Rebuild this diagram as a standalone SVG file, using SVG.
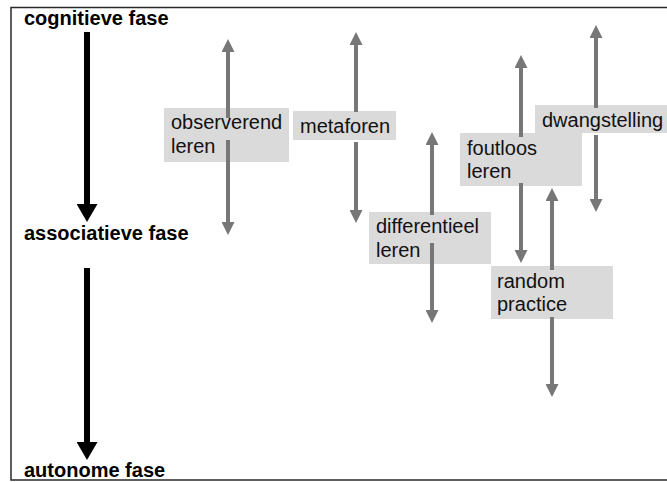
<svg xmlns="http://www.w3.org/2000/svg" width="667" height="482" viewBox="0 0 667 482">
<style>
.frame{fill:none;stroke:#2a2a2a;stroke-width:1.5}
.box{fill:#dadada}
.lbl{font-family:"Liberation Sans",Arial,sans-serif;font-size:20px;fill:#111}
.phase{font-family:"Liberation Sans",Arial,sans-serif;font-size:20px;font-weight:bold;fill:#000}
.g{stroke:#777;stroke-width:4;fill:none;marker-end:url(#gh)}
.k{stroke:#000;stroke-width:6;fill:none;marker-end:url(#kh)}
</style>
<defs>
<marker id="gh" viewBox="0 0 13 13" markerUnits="userSpaceOnUse" markerWidth="13" markerHeight="13" refX="6.5" refY="6.5" orient="auto"><path d="M0,0 L13,6.5 L0,13 z" fill="#777"/></marker>
<marker id="kh" viewBox="0 0 18 21" markerUnits="userSpaceOnUse" markerWidth="18" markerHeight="21" refX="9" refY="10.5" orient="auto"><path d="M0,0 L18,10.5 L0,21 z" fill="#000"/></marker>
</defs>
<rect width="667" height="482" fill="#fff"/>
<path class="frame" d="M667,7.5 H11 V480 H667"/>
<g id="cognitieve"><text class="phase" x="24" y="25">cognitieve fase</text></g>
<g id="associatieve"><text class="phase" x="24" y="240">associatieve fase</text></g>
<g id="autonome"><text class="phase" x="24" y="477">autonome fase</text></g>
<g id="observerend"><rect class="box" x="164" y="108" width="125" height="54"/><text class="lbl" x="171" y="129">observerend</text><text class="lbl" x="171" y="153">leren</text></g>
<g id="metaforen"><rect class="box" x="293" y="111" width="103" height="29"/><text class="lbl" x="300" y="133">metaforen</text></g>
<g id="differentieel"><rect class="box" x="369" y="212" width="122" height="52"/><text class="lbl" x="376" y="233">differentieel</text><text class="lbl" x="376" y="257">leren</text></g>
<g id="foutloos"><rect class="box" x="460" y="133" width="122" height="53"/><text class="lbl" x="467" y="155">foutloos</text><text class="lbl" x="467" y="178">leren</text></g>
<g id="random"><rect class="box" x="491" y="266" width="122" height="53"/><text class="lbl" x="497" y="288">random</text><text class="lbl" x="497" y="311">practice</text></g>
<g id="dwangstelling"><rect class="box" x="535" y="105" width="132" height="28"/><text class="lbl" x="542" y="127">dwangstelling</text></g>
<g id="connectors">
<line class="k" x1="87" y1="32" x2="87" y2="213"/>
<line class="k" x1="87" y1="268" x2="87" y2="451"/>
<line class="g" x1="228" y1="118" x2="228" y2="45.5"/>
<line class="g" x1="228" y1="140" x2="228" y2="228.5"/>
<line class="g" x1="356" y1="112" x2="356" y2="38.5"/>
<line class="g" x1="356" y1="142" x2="356" y2="216.5"/>
<line class="g" x1="432" y1="215" x2="432" y2="138.5"/>
<line class="g" x1="432" y1="243" x2="432" y2="316.5"/>
<line class="g" x1="521" y1="137" x2="521" y2="61.5"/>
<line class="g" x1="521" y1="183" x2="521" y2="256.5"/>
<line class="g" x1="552" y1="270" x2="552" y2="194.5"/>
<line class="g" x1="552" y1="317" x2="552" y2="390.5"/>
<line class="g" x1="596" y1="108" x2="596" y2="31.5"/>
<line class="g" x1="596" y1="135" x2="596" y2="205.5"/>
</g>
</svg>
